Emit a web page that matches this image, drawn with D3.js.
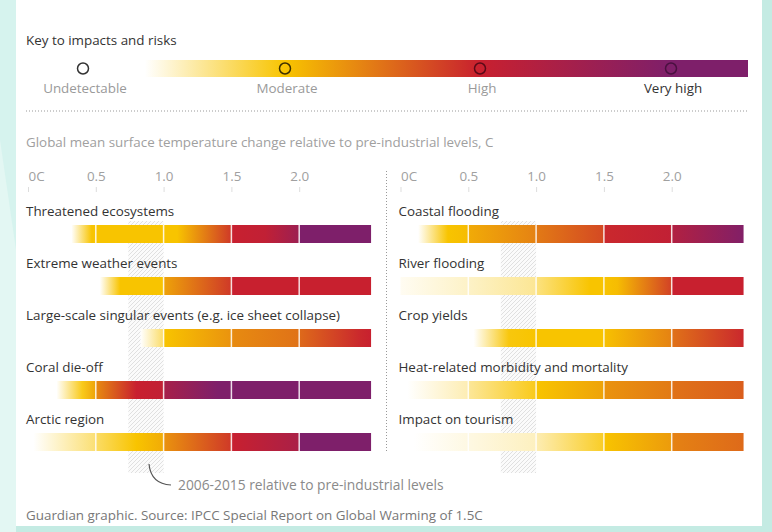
<!DOCTYPE html>
<html><head><meta charset="utf-8">
<script src="https://cdn.jsdelivr.net/npm/d3@7"></script>
<style>
html,body{margin:0;padding:0;background:#c6ece4;}
svg{display:block;font-family:"Open Sans",sans-serif;}
</style></head>
<body>
<svg id="chart" width="772" height="532"></svg>
<script>
// ---------- data ----------
const riskLevels = ["Undetectable", "Moderate", "High", "Very high"];
const riskColors = ["#ffffff", "#f8c400", "#c8202f", "#7e1f6a"];
const tickValues = [0, 0.5, 1.0, 1.5, 2.0];
const tickLabels = ["0C", "0.5", "1.0", "1.5", "2.0"];
const maxTemp = 2.53;
const recentWarming = [0.74, 1.0];

const leftCategories = ["Threatened ecosystems", "Extreme weather events",
  "Large-scale singular events (e.g. ice sheet collapse)", "Coral die-off", "Arctic region"];
const rightCategories = ["Coastal flooding", "River flooding", "Crop yields",
  "Heat-related morbidity and mortality", "Impact on tourism"];

// [temperature, risk level 0-3]
const leftStops = [
  [[0.32,0],[0.47,1],[1.1,1],[1.5,1.85],[1.5,2],[1.75,2.1],[2.0,2.6],[2.0,3],[2.53,3]],
  [[0.53,0],[0.68,1],[1.0,1],[1.0,1.2],[1.5,1.85],[1.5,2],[2.53,2]],
  [[0.83,0],[1.0,0.6],[1.0,1],[1.5,1.3],[1.5,1.35],[2.0,1.5],[2.0,1.55],[2.45,1.95],[2.53,2]],
  [[0.21,0],[0.4,0.9],[0.5,1.2],[0.5,1.35],[0.8,2],[1.0,2.1],[1.0,2.45],[1.4,3],[2.53,3]],
  [[0.04,0],[0.5,0.55],[0.5,0.6],[0.8,1],[1.0,1.15],[1.0,1.3],[1.5,1.85],[1.5,2],[2.0,2.4],[2.0,3],[2.53,3]]
];
const rightStops = [
  [[0.13,0],[0.35,1],[0.5,1.05],[0.5,1.15],[1.0,1.4],[1.0,1.45],[1.5,1.75],[1.5,1.95],[2.0,2.1],[2.0,2.3],[2.53,2.95]],
  [[0,0.05],[0.5,0.22],[1.0,0.42],[1.0,0.5],[1.4,1],[1.5,1],[1.6,1.05],[2.0,1.8],[2.0,2],[2.53,2]],
  [[0.54,0],[0.8,0.95],[1.0,1],[1.5,1],[1.5,1.02],[2.0,1.4],[2.0,1.5],[2.53,1.95]],
  [[0.05,0],[0.5,0.3],[0.5,0.4],[1.0,0.9],[1.0,1],[1.5,1.2],[1.5,1.3],[2.0,1.45],[2.0,1.5],[2.53,1.62]],
  [[0.1,0],[1.0,0.25],[1.0,0.3],[1.5,0.85],[1.5,1],[2.0,1.25],[2.0,1.4],[2.53,1.55]]
];

// ---------- drawing ----------
const FS = 13.4;
const svg = d3.select("#chart");
const defs = svg.append("defs");

// background: teal frame + white card
svg.append("rect").attr("width",772).attr("height",532).attr("fill","#c4ebe3");
svg.append("path").attr("d","M0,0 L16,0 L16,532 L0,532 Z").attr("fill","#d6f3ee");
svg.append("path").attr("d","M0,140 L16,250 L16,532 L0,532 Z").attr("fill","#e3f7f3");
svg.append("rect").attr("x",16).attr("y",0).attr("width",746).attr("height",526).attr("fill","#ffffff");

const riskColor = d3.scaleLinear().domain([0,1,2,3]).range(riskColors).clamp(true);

// ---- key ----
svg.append("text").attr("x",26).attr("y",45).attr("font-size",FS).attr("fill","#333")
  .text("Key to impacts and risks");
const keyX = d3.scaleLinear().domain([0,1,2,3]).range([83,285,480,671]);
const keyStart = 145, keyEnd = 748;
const kg = defs.append("linearGradient").attr("id","keyGrad")
  .attr("gradientUnits","userSpaceOnUse").attr("x1",keyStart).attr("x2",keyEnd).attr("y1",0).attr("y2",0);
const keyGradStops = [[keyStart,0],[keyX(1),1],[keyX(2),2],[keyX(3),3],[keyEnd,3]];
keyGradStops.forEach(([px,l]) => kg.append("stop")
  .attr("offset",(px-keyStart)/(keyEnd-keyStart)).attr("stop-color",riskColor(l)));
svg.append("rect").attr("x",keyStart).attr("y",60).attr("width",keyEnd-keyStart).attr("height",17)
  .attr("fill","url(#keyGrad)");
const circleStroke = ["#333333","#3d3000","#5a0a18","#4a1040"];
riskLevels.forEach((lab,i) => {
  svg.append("circle").attr("cx",keyX(i)).attr("cy",68.5).attr("r",5.5)
    .attr("fill","none").attr("stroke",circleStroke[i]).attr("stroke-width",1.5);
  svg.append("text").attr("x",keyX(i)+2).attr("y",93).attr("text-anchor","middle")
    .attr("font-size",FS).attr("fill", i===3 ? "#333" : "#9a9a9a").text(lab);
});
svg.append("line").attr("x1",26).attr("x2",748).attr("y1",111).attr("y2",111)
  .attr("stroke","#999").attr("stroke-dasharray","1,2");

svg.append("text").attr("x",26).attr("y",147).attr("font-size",FS).attr("fill","#a0a0a0")
  .text("Global mean surface temperature change relative to pre-industrial levels, C");

// vertical divider
svg.append("line").attr("x1",386.5).attr("x2",386.5).attr("y1",171).attr("y2",452)
  .attr("stroke","#999").attr("stroke-dasharray","1,2");

// hatch pattern
const pat = defs.append("pattern").attr("id","hatch").attr("patternUnits","userSpaceOnUse")
  .attr("width",4).attr("height",4);
pat.append("rect").attr("width",4).attr("height",4).attr("fill","#fbfbfb");
pat.append("path").attr("d","M-1,1 L1,-1 M0,4 L4,0 M3,5 L5,3").attr("stroke","#dcdcdc").attr("stroke-width",0.9);

function panel(cats, stops, x0, idPrefix) {
  const x = d3.scaleLinear().domain([0,2.5]).range([x0, x0+339]);
  const y = d3.scaleBand().domain(cats).range([199, 459]);
  const g = svg.append("g");

  // axis labels
  const axis = d3.axisTop(x).tickValues(tickValues).tickFormat((d,i)=>tickLabels[i]).tickSize(0);
  const ag = g.append("g").attr("transform","translate(0,181)").call(axis);
  ag.select(".domain").remove();
  ag.selectAll("text").attr("font-size",FS).attr("fill","#a0a0a0").attr("font-family","Open Sans, sans-serif")
    .attr("y",0).attr("dy",0).attr("text-anchor",(d,i)=> i===0 ? "start" : "middle");
  ag.selectAll(".tick").append("line").attr("y1",6).attr("y2",11).attr("stroke","#dddddd");

  // hatched recent warming band
  g.append("rect").attr("x",x(recentWarming[0])).attr("width",x(recentWarming[1])-x(recentWarming[0]))
    .attr("y",221).attr("height",252).attr("fill","url(#hatch)");

  cats.forEach((c,i) => {
    const st = stops[i];
    const t0 = st[0][0], t1 = st[st.length-1][0];
    const gid = idPrefix + i;
    const lg = defs.append("linearGradient").attr("id",gid).attr("gradientUnits","userSpaceOnUse")
      .attr("x1",x(t0)).attr("x2",x(t1)).attr("y1",0).attr("y2",0);
    st.forEach(([t,l]) => lg.append("stop").attr("offset",(t-t0)/(t1-t0)).attr("stop-color",riskColor(l)));
    g.append("text").attr("x",26 + (x0-28)).attr("y",y(c)+17).attr("font-size",FS).attr("fill","#333").text(c);
    g.append("rect").attr("x",x(t0)).attr("width",x(t1)-x(t0)).attr("y",y(c)+26).attr("height",18)
      .attr("fill",`url(#${gid})`);
    tickValues.filter(t => t > t0 && t < t1).forEach(t => {
      g.append("line").attr("x1",x(t)).attr("x2",x(t)).attr("y1",y(c)+26).attr("y2",y(c)+44)
        .attr("stroke","#ffffff").attr("stroke-opacity",0.85).attr("stroke-width",1.5);
    });
  });
}
panel(leftCategories, leftStops, 28, "lg");
panel(rightCategories, rightStops, 400.5, "rg");

// annotation
svg.append("path").attr("d","M149,464 Q151,484 171,485").attr("fill","none").attr("stroke","#555").attr("stroke-width",1.2);
svg.append("text").attr("x",178).attr("y",490).attr("font-size",13.8).attr("fill","#8a8a8a")
  .text("2006-2015 relative to pre-industrial levels");

svg.append("text").attr("x",26).attr("y",520).attr("font-size",FS).attr("fill","#777")
  .text("Guardian graphic. Source: IPCC Special Report on Global Warming of 1.5C");
</script>
</body></html>
